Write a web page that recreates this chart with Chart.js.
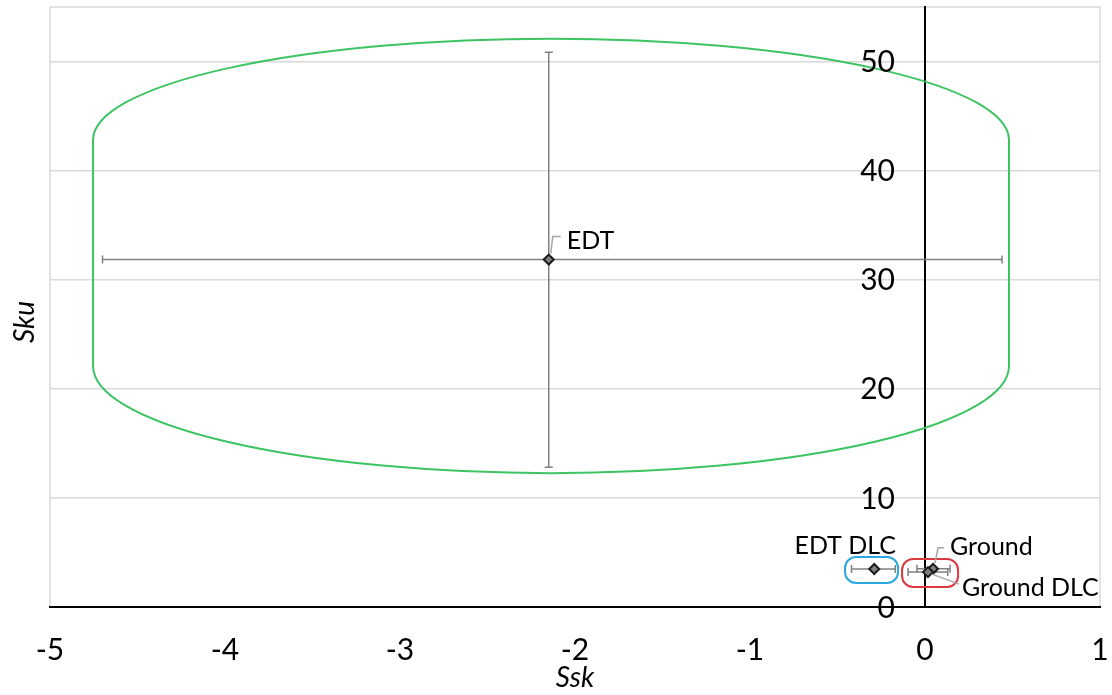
<!DOCTYPE html>
<html>
<head>
<meta charset="utf-8">
<script src="https://cdn.jsdelivr.net/npm/chart.js@4"></script>
<style>
  html, body { margin: 0; padding: 0; background: #fff; }
  #wrap { width: 1112px; height: 695px; }
</style>
</head>
<body>
<div id="wrap"><canvas id="c" width="1112" height="695"></canvas></div>
<script>
// ---- data ----
const pointLabels = ['EDT', 'EDT DLC', 'Ground', 'Ground DLC'];
const sskMean     = [-2.15, -0.29, 0.046, 0.017];
const skuMean     = [31.85, 3.48, 3.5, 3.2];
const sskErrLow   = [-4.70, -0.42, -0.046, -0.097];
const sskErrHigh  = [0.44, -0.17, 0.143, 0.13];
const skuErrLow   = [12.82, 3.48, 3.5, 3.2];
const skuErrHigh  = [50.85, 3.48, 3.5, 3.2];
const xTicks = [-5, -4, -3, -2, -1, 0, 1];
const yTicks = [0, 10, 20, 30, 40, 50];

// annotation outlines in data units
const greenOutline = { xMin: -4.754, xMax: 0.48, yPeak: 52.1, ySideTop: 42.8, ySideBottom: 22.1, yLow: 12.27 };
const blueOutline  = { xMin: -0.457, xMax: -0.154, yMax: 4.58, yMin: 2.2 };
const redOutline   = { xMin: -0.131, xMax: 0.189, yMax: 4.4, yMin: 1.83 };

// label placement (pixel offsets from the marker) - style only
const labelStyle = [
  { tx: 18, ty: -19, align: 'left',   leader: [[2, -6], [4, -23], [12, -23]] },
  { tx: -29, ty: -23, align: 'center', leader: null },
  { tx: 17, ty: -22, align: 'left',   leader: [[2, -6], [5, -21], [11, -21]] },
  { tx: 34, ty: 16, align: 'left',    leader: [[4, 2], [31, 12]] }
];

const FONT = 'Lato, "Open Sans", sans-serif';
const TICK_SIZE = 30;

const zeroPad = s => { s.paddingLeft = 0; s.paddingRight = 0; s.paddingTop = 0; s.paddingBottom = 0; };

const decor = {
  id: 'decor',
  beforeDraw(chart) {
    const { ctx, chartArea: a } = chart;
    ctx.save();
    ctx.strokeStyle = '#d9d9d9';
    ctx.lineWidth = 1.5;
    ctx.strokeRect(a.left, a.top, a.right - a.left, a.bottom - a.top);
    ctx.restore();
  },
  beforeDatasetsDraw(chart) {
    const { ctx, scales: { x, y } } = chart;
    ctx.save();
    ctx.strokeStyle = '#808080';
    ctx.lineWidth = 1.5;
    const cap = 4;
    for (let i = 0; i < sskMean.length; i++) {
      const py = y.getPixelForValue(skuMean[i]);
      const px = x.getPixelForValue(sskMean[i]);
      const x1 = x.getPixelForValue(sskErrLow[i]), x2 = x.getPixelForValue(sskErrHigh[i]);
      ctx.beginPath();
      ctx.moveTo(x1, py); ctx.lineTo(x2, py);
      ctx.moveTo(x1, py - cap); ctx.lineTo(x1, py + cap);
      ctx.moveTo(x2, py - cap); ctx.lineTo(x2, py + cap);
      ctx.stroke();
      if (skuErrHigh[i] !== skuErrLow[i]) {
        const y1 = y.getPixelForValue(skuErrLow[i]), y2 = y.getPixelForValue(skuErrHigh[i]);
        ctx.beginPath();
        ctx.moveTo(px, y1); ctx.lineTo(px, y2);
        ctx.moveTo(px - cap, y1); ctx.lineTo(px + cap, y1);
        ctx.moveTo(px - cap, y2); ctx.lineTo(px + cap, y2);
        ctx.stroke();
      }
    }
    ctx.restore();
  },
  afterDatasetsDraw(chart) {
    const { ctx, scales: { x, y }, chartArea: a } = chart;
    ctx.save();
    // green outline
    const g = greenOutline;
    const L = x.getPixelForValue(g.xMin), R = x.getPixelForValue(g.xMax);
    const cx = (L + R) / 2, rx = (R - L) / 2;
    const sT = y.getPixelForValue(g.ySideTop), sB = y.getPixelForValue(g.ySideBottom);
    const pk = y.getPixelForValue(g.yPeak), lo = y.getPixelForValue(g.yLow);
    ctx.strokeStyle = '#3dc462';
    ctx.lineWidth = 2;
    ctx.beginPath();
    ctx.moveTo(L, sB);
    ctx.lineTo(L, sT);
    ctx.ellipse(cx, sT, rx, sT - pk, 0, Math.PI, 2 * Math.PI);
    ctx.lineTo(R, sB);
    ctx.ellipse(cx, sB, rx, lo - sB, 0, 0, Math.PI);
    ctx.closePath();
    ctx.stroke();
    // blue + red pills
    const pill = (o, col) => {
      const x1 = x.getPixelForValue(o.xMin), x2 = x.getPixelForValue(o.xMax);
      const y1 = y.getPixelForValue(o.yMax), y2 = y.getPixelForValue(o.yMin);
      ctx.strokeStyle = col;
      ctx.lineWidth = 2;
      ctx.beginPath();
      ctx.roundRect(x1, y1, x2 - x1, y2 - y1, 11);
      ctx.stroke();
    };
    pill(blueOutline, '#2ba8df');
    pill(redOutline, '#db3a40');

    // y tick labels (left of the axis line that crosses at x = 0)
    const axisX = x.getPixelForValue(0);
    ctx.font = TICK_SIZE + 'px ' + FONT;
    ctx.fillStyle = '#000';
    ctx.textAlign = 'right';
    ctx.textBaseline = 'middle';
    yTicks.forEach(v => ctx.fillText(String(v), axisX - 30, y.getPixelForValue(v) + 1));

    // leader lines + labels
    ctx.font = '25px ' + FONT;
    ctx.textBaseline = 'middle';
    for (let i = 0; i < pointLabels.length; i++) {
      const px = x.getPixelForValue(sskMean[i]);
      const py = y.getPixelForValue(skuMean[i]);
      const s = labelStyle[i];
      if (s.leader) {
        ctx.strokeStyle = '#a6a6a6';
        ctx.lineWidth = 1.5;
        ctx.beginPath();
        s.leader.forEach((p, k) => k ? ctx.lineTo(px + p[0], py + p[1]) : ctx.moveTo(px + p[0], py + p[1]));
        ctx.stroke();
      }
      ctx.fillStyle = '#000';
      ctx.textAlign = s.align;
      ctx.fillText(pointLabels[i], px + s.tx, py + s.ty);
    }

    // y axis title
    ctx.save();
    ctx.translate(25, (a.top + a.bottom) / 2 + 15);
    ctx.rotate(-Math.PI / 2);
    ctx.font = 'italic 28px ' + FONT;
    ctx.textAlign = 'center';
    ctx.fillStyle = '#000';
    ctx.fillText('Sku', 0, 0);
    ctx.restore();
    ctx.restore();
  }
};

new Chart(document.getElementById('c'), {
  type: 'scatter',
  data: {
    datasets: [{
      data: sskMean.map((v, i) => ({ x: v, y: skuMean[i] })),
      pointStyle: 'rectRot',
      pointRadius: 5,
      pointBackgroundColor: '#808080',
      pointBorderColor: '#1a1a1a',
      pointBorderWidth: 2,
      showLine: false
    }]
  },
  options: {
    responsive: false,
    animation: false,
    devicePixelRatio: 1,
    layout: { padding: { left: 50, right: 12, top: 7, bottom: 0 } },
    plugins: { legend: { display: false }, tooltip: { enabled: false } },
    scales: {
      x: {
        type: 'linear',
        position: 'bottom',
        min: xTicks[0],
        max: xTicks[xTicks.length - 1],
        afterBuildTicks: s => { s.ticks = xTicks.map(v => ({ value: v })); },
        afterFit: s => { s.height = 88; zeroPad(s); },
        ticks: { font: { size: TICK_SIZE, family: FONT }, color: '#000', padding: 25, maxRotation: 0 },
        grid: { display: false, drawTicks: false },
        border: { display: true, color: '#000', width: 2 },
        title: { display: true, text: 'Ssk', font: { size: 28, style: 'italic', family: FONT }, color: '#000', padding: 0 }
      },
      y: {
        type: 'linear',
        position: { x: 0 },
        min: 0,
        max: 55,
        afterBuildTicks: s => { s.ticks = yTicks.map(v => ({ value: v })); },
        afterFit: s => { zeroPad(s); },
        ticks: { display: false },
        grid: { color: '#d9d9d9', lineWidth: 1.5, drawTicks: false },
        border: { display: true, color: '#000', width: 2 }
      }
    }
  },
  plugins: [decor]
});
</script>
</body>
</html>
